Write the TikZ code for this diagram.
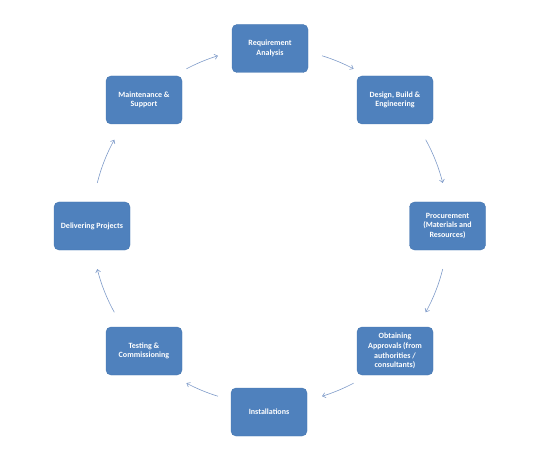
\documentclass[tikz,border=0pt]{standalone}
\usepackage{fontspec}
\setmainfont{Carlito}
\usetikzlibrary{arrows.meta,calc}
\definecolor{boxblue}{HTML}{4F81BD}
\definecolor{boxedge}{HTML}{4777B0}
\definecolor{arrowblue}{HTML}{7F9BC9}
\tikzset{
  stagebox/.style={rectangle, rounded corners=5pt, fill=boxblue, draw=boxedge, line width=0.4pt,
    minimum width=76pt, minimum height=48pt, inner sep=2pt, align=center, text=white,
    font=\fontsize{8}{9.6}\selectfont\bfseries},
  cyclearrow/.style={draw=arrowblue, line width=0.6pt, -{Straight Barb[length=3pt,width=5pt]}}
}
\begin{document}
\begin{tikzpicture}[x=1pt,y=-1pt]
\useasboundingbox (0,0) rectangle (546,457);
\coordinate (O) at (270,226);
\node[stagebox] (req) at (270,48.5) {Requirement\\Analysis};
\node[stagebox] (des) at (395,100) {Design, Build \&\\Engineering};
\node[stagebox] (pro) at (447.5,226) {Procurement\\(Materials and\\Resources)};
\node[stagebox] (obt) at (395,351) {Obtaining\\Approvals (from\\authorities /\\consultants)};
\node[stagebox] (ins) at (269,412) {Installations};
\node[stagebox] (tes) at (144,351) {Testing \&\\Commissioning};
\node[stagebox] (del) at (92,226) {Delivering Projects};
\node[stagebox] (mai) at (144,100) {Maintenance \&\\Support};
% arc start points (math angles measured counter-clockwise, y axis flipped)
\coordinate (s1) at ($(O)+(-73:178)$);
\coordinate (s2) at ($(O)+(-29:178)$);
\coordinate (s3) at ($(O)+(14:178)$);
\coordinate (s4) at ($(O)+(62:178)$);
\coordinate (s5) at ($(O)+(107:178)$);
\coordinate (s6) at ($(O)+(151:178)$);
\coordinate (s7) at ($(O)+(194:178)$);
\coordinate (s8) at ($(O)+(242:178)$);
\draw[cyclearrow] (s1) arc[start angle=-73, end angle=-62, radius=178];
\draw[cyclearrow] (s2) arc[start angle=-29, end angle=-14, radius=178];
\draw[cyclearrow] (s3) arc[start angle=14, end angle=29, radius=178];
\draw[cyclearrow] (s4) arc[start angle=62, end angle=73, radius=178];
\draw[cyclearrow] (s5) arc[start angle=107, end angle=118, radius=178];
\draw[cyclearrow] (s6) arc[start angle=151, end angle=166, radius=178];
\draw[cyclearrow] (s7) arc[start angle=194, end angle=209, radius=178];
\draw[cyclearrow] (s8) arc[start angle=242, end angle=253, radius=178];
\end{tikzpicture}
\end{document}
